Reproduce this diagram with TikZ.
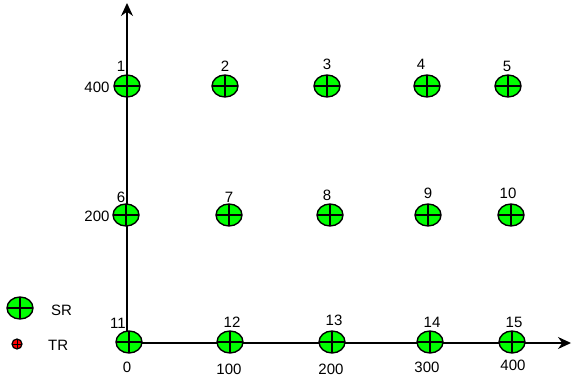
\documentclass[tikz,border=0pt]{standalone}
\usepackage{fontspec}
\setmainfont{Liberation Sans}
\usetikzlibrary{positioning}
\usetikzlibrary{shapes.geometric}
\usetikzlibrary{arrows.meta}
\tikzset{
  sr/.style={ellipse, draw=black, line width=1.4pt, fill=green,
    minimum width=26pt, minimum height=22pt, inner sep=0pt,
    path picture={
      \draw[line width=1.2pt] (path picture bounding box.north) -- (path picture bounding box.south);
      \draw[line width=1.2pt] (path picture bounding box.west) -- (path picture bounding box.east);
    }},
  tr/.style={circle, draw=black, line width=1.2pt, fill=red,
    minimum size=10pt, inner sep=0pt,
    path picture={
      \draw[line width=0.9pt] (path picture bounding box.north) -- (path picture bounding box.south);
      \draw[line width=0.9pt] (path picture bounding box.west) -- (path picture bounding box.east);
    }},
  lbl/.style={inner sep=0pt, font=\fontsize{15}{17}\selectfont},
  axis/.style={line width=1.5pt, -{Stealth[length=13pt,width=12pt]}}
}
\begin{document}
\begin{tikzpicture}[x=1pt,y=-1pt]
\useasboundingbox (0,0) rectangle (572,382);
% axes
\coordinate (origin) at (127,343);
\coordinate (ytip) at (127,3);
\coordinate (xtip) at (571,343);
\draw[axis] (origin) -- (ytip);
\draw[axis] (origin) -- (xtip);
% sensor grid
\foreach \n/\x/\y/\lx/\ly in {1/127/86/121/66, 2/225/86/225/66, 3/327/86/327/64,
  4/427/86/421/64, 5/508/86/507/66,
  6/126/215/121/197, 7/229/215/229/197, 8/330/215/327/195,
  9/428/215/428/193, 10/511/215/508/193,
  11/129/342/118/323, 12/230/342/232/322, 13/332/342/334/320,
  14/430/342/432/322, 15/512/342/514/322} {
  \node[sr] (s\n) at (\x,\y) {};
  \node[lbl] (l\n) at (\lx,\ly) {\n};
}
% axis values
\node[lbl] (y400) at (97,87) {400};
\node[lbl] (y200) at (97,216) {200};
\foreach \v/\x/\y in {0/127/367, 100/229/369, 200/331/369, 300/427/367, 400/513/365} {
  \node[lbl] (x\v) at (\x,\y) {\v};
}
% legend
\node[sr] (legsr) at (20,308) {};
\node[lbl, anchor=west] (legsrtxt) at (51,310) {SR};
\node[tr] (legtr) at (17,344) {};
\node[lbl, anchor=west] (legtrtxt) at (48,345) {TR};
\end{tikzpicture}
\end{document}
